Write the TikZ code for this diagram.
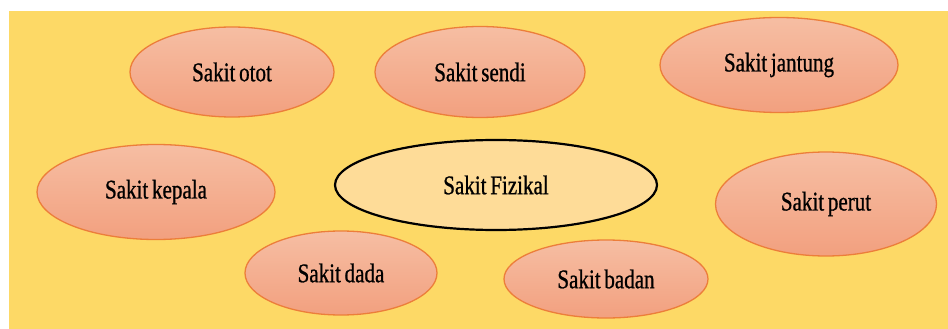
\documentclass[tikz,border=0pt]{standalone}
\usepackage{fontspec}
\newfontfamily\condfont[FakeStretch=0.78,FakeBold=0.8,WordSpace=0.7]{Liberation Serif}
\usetikzlibrary{shapes.geometric}
\definecolor{bgyellow}{HTML}{FDD966}
\definecolor{salmontop}{HTML}{F6BEA3}
\definecolor{salmonbot}{HTML}{F2A07F}
\definecolor{orangeline}{HTML}{EC7E3A}
\definecolor{centerfill}{HTML}{FEDC98}
\tikzset{
  leaf/.style={ellipse, draw=orangeline, line width=1.3pt, top color=salmontop, bottom color=salmonbot, inner sep=0pt, font=\condfont\fontsize{27}{30}\selectfont, text=black},
  hub/.style={ellipse, draw=black, line width=2.2pt, fill=centerfill, inner sep=0pt, font=\condfont\fontsize{27}{30}\selectfont, text=black}
}
\begin{document}
\begin{tikzpicture}[x=1pt,y=-1pt]
\useasboundingbox (0,0) rectangle (948,329);
\fill[white] (0,0) rectangle (948,329);
\fill[bgyellow] (9,11) rectangle (948,329);
\node[leaf, minimum width=204pt, minimum height=90pt] (otot) at (232,72) {Sakit otot};
\node[leaf, minimum width=210pt, minimum height=91pt] (sendi) at (480,72) {Sakit sendi};
\node[leaf, minimum width=238pt, minimum height=95pt] (jantung) at (779,65) {Sakit jantung};
\node[leaf, minimum width=238pt, minimum height=95pt] (kepala) at (156,192) {Sakit kepala};
\node[hub, minimum width=322pt, minimum height=90pt] (fizikal) at (496,185) {Sakit Fizikal};
\node[leaf, minimum width=221pt, minimum height=104pt] (perut) at (826,204) {Sakit perut};
\node[leaf, minimum width=192pt, minimum height=84pt] (dada) at (341,273) {Sakit dada};
\node[leaf, minimum width=204pt, minimum height=78pt] (badan) at (606,279) {Sakit badan};
\end{tikzpicture}
\end{document}
